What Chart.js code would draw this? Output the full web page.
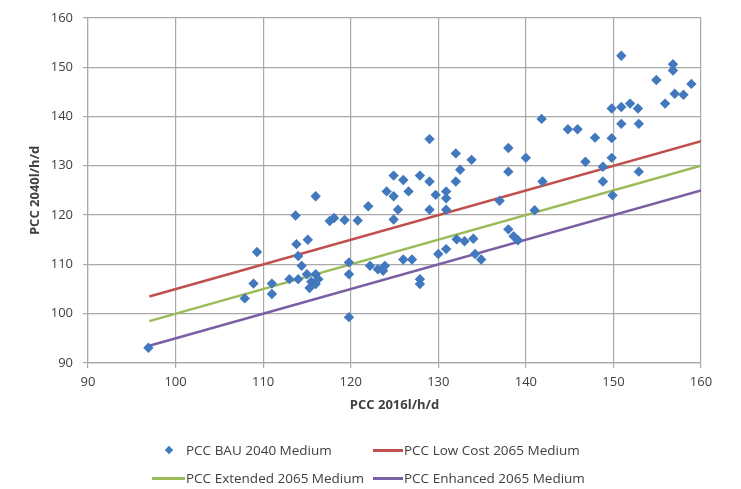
<!DOCTYPE html>
<html><head><meta charset="utf-8">
<script src="https://cdn.jsdelivr.net/npm/chart.js@4/dist/chart.umd.min.js"></script>
<style>
html,body{margin:0;padding:0;background:#fff;}
#wrap{position:relative;width:741px;height:489px;overflow:hidden;}
#c{position:absolute;left:0;top:0;}
.lgt{position:absolute;font:13.5px "Open Sans",sans-serif;color:#404040;white-space:nowrap;line-height:16px;}
.lgl{position:absolute;height:3px;}
.lgd{position:absolute;width:6px;height:6px;transform:rotate(45deg);}
</style></head><body>
<div id="wrap"><canvas id="c" width="741" height="489"></canvas><div id="legend"></div></div>
<script>
// ---- data ----
const seriesNames = ["PCC BAU 2040 Medium", "PCC Low Cost 2065 Medium", "PCC Extended 2065 Medium", "PCC Enhanced 2065 Medium"];
const bauPCC2016 = [96.9,107.9,108.9,109.3,111.0,111.0,113.0,113.7,113.8,114.0,114.4,114.0,115.1,115.0,115.5,115.3,116.0,116.0,116.3,116.0,
  117.6,118.1,119.3,120.8,119.8,119.8,119.8,122.0,122.2,123.1,123.9,123.7,124.9,126.0,124.1,124.9,126.6,125.4,124.9,126.0,
  127.0,127.9,129.0,127.9,127.9,129.0,129.7,130.9,130.9,129.0,130.9,130.0,130.9,132.0,133.8,132.5,132.0,132.1,133.0,134.0,
  134.2,134.9,137.0,138.0,138.0,138.0,138.6,139.1,140.0,141.0,141.8,141.9,144.8,145.9,146.8,147.9,148.8,148.8,149.8,149.8,
  149.8,149.9,150.9,150.9,150.9,151.9,152.8,152.9,152.9,154.9,155.9,156.8,156.8,157.0,158.0,158.9];
const bauPCC2040 = [93.1,103.1,106.1,112.5,106.1,104.0,107.0,119.9,114.1,111.7,109.7,107.0,115.0,108.0,106.5,105.2,108.0,106.0,107.0,123.8,
  118.8,119.4,119.0,118.9,110.4,108.0,99.3,121.8,109.7,109.0,109.7,108.7,128.0,127.1,124.8,123.8,124.8,121.1,119.1,111.0,
  111.0,128.0,126.8,107.0,106.0,135.4,124.1,124.8,123.4,121.1,121.1,112.1,113.1,132.5,131.2,129.2,126.8,115.1,114.7,115.2,
  112.1,111.0,122.9,133.6,128.8,117.1,115.7,114.9,131.6,121.0,139.5,126.8,137.4,137.4,130.8,135.7,129.8,126.8,141.6,135.6,
  131.6,124.0,152.3,141.9,138.5,142.6,141.6,138.5,128.8,147.4,142.6,150.6,149.3,144.6,144.4,146.6];
const lineX = [97, 160];
const lowCost2065 = [103.5, 135];
const extended2065 = [98.5, 130];
const enhanced2065 = [93.5, 125];
const xTicks = [90, 100, 110, 120, 130, 140, 150, 160];
const yTicks = [90, 100, 110, 120, 130, 140, 150, 160];
const xTitle = "PCC 2016l/h/d";
const yTitle = "PCC 2040l/h/d";

// ---- styles ----
const colors = ["#4178be", "#c0504d", "#9bbb59", "#7b5fa3"];
const gridColor = "#a9a9a9";
const textColor = "#404040";
const fontFam = "'Open Sans', sans-serif";

const pts = (xs, ys) => xs.map((x, i) => ({x: x, y: ys[i]}));

new Chart(document.getElementById("c"), {
  type: "scatter",
  data: {
    datasets: [
      {label: seriesNames[0], data: pts(bauPCC2016, bauPCC2040), pointStyle: "rectRot", pointRadius: 5.2,
       backgroundColor: colors[0], borderColor: colors[0], borderWidth: 0, showLine: false, order: 0},
      {label: seriesNames[1], data: pts(lineX, lowCost2065), showLine: true, borderColor: colors[1], borderWidth: 2.5, pointRadius: 0, order: 1},
      {label: seriesNames[2], data: pts(lineX, extended2065), showLine: true, borderColor: colors[2], borderWidth: 2.5, pointRadius: 0, order: 1},
      {label: seriesNames[3], data: pts(lineX, enhanced2065), showLine: true, borderColor: colors[3], borderWidth: 2.5, pointRadius: 0, order: 1}
    ]
  },
  options: {
    responsive: false, animation: false,
    layout: {padding: {left: 0, top: 15, right: 40, bottom: 76}},
    plugins: {legend: {display: false}, tooltip: {enabled: false}},
    scales: {
      x: {
        type: "linear", min: xTicks[0], max: xTicks[xTicks.length - 1],
        afterBuildTicks: s => { s.ticks = xTicks.map(v => ({value: v})); },
        afterFit: s => { s.height = 50; },
        grid: {color: gridColor, lineWidth: 1.2, tickLength: 5, drawTicks: true},
        border: {color: gridColor, width: 1.2},
        ticks: {padding: 6, color: textColor, font: {family: fontFam, size: 13}, maxRotation: 0},
        title: {display: true, text: xTitle, color: textColor, padding: 0, font: {family: fontFam, size: 13, weight: "bold"}}
      },
      y: {
        type: "linear", min: yTicks[0], max: yTicks[yTicks.length - 1],
        afterBuildTicks: s => { s.ticks = yTicks.map(v => ({value: v})); },
        afterFit: s => { s.width = 88; },
        grid: {color: gridColor, lineWidth: 1.2, tickLength: 5, drawTicks: true},
        border: {color: gridColor, width: 1.2},
        ticks: {padding: 10, color: textColor, font: {family: fontFam, size: 13}},
        title: {display: true, text: yTitle, color: textColor, padding: {top: 27, bottom: 0}, font: {family: fontFam, size: 13, weight: "bold"}}
      }
    }
  }
});

// ---- HTML legend (two rows, two columns) ----
const lg = document.getElementById("legend");
const slots = [
  {sym: "d", sx: 152, sw: 33, tx: 186, cy: 450},
  {sym: "l", sx: 373, sw: 30, tx: 404, cy: 450},
  {sym: "l", sx: 152, sw: 33, tx: 186, cy: 478},
  {sym: "l", sx: 373, sw: 30, tx: 404, cy: 478}
];
slots.forEach((s, i) => {
  if (s.sym === "d") {
    const d = document.createElement("div");
    d.className = "lgd"; d.style.background = colors[i];
    d.style.left = (s.sx + s.sw / 2 - 3) + "px"; d.style.top = (s.cy - 3) + "px";
    lg.appendChild(d);
  } else {
    const l = document.createElement("div");
    l.className = "lgl"; l.style.background = colors[i];
    l.style.left = s.sx + "px"; l.style.width = s.sw + "px"; l.style.top = (s.cy - 1.5) + "px";
    lg.appendChild(l);
  }
  const t = document.createElement("div");
  t.className = "lgt"; t.textContent = seriesNames[i];
  t.style.left = s.tx + "px"; t.style.top = (s.cy - 8) + "px";
  lg.appendChild(t);
});
</script>
</body></html>
